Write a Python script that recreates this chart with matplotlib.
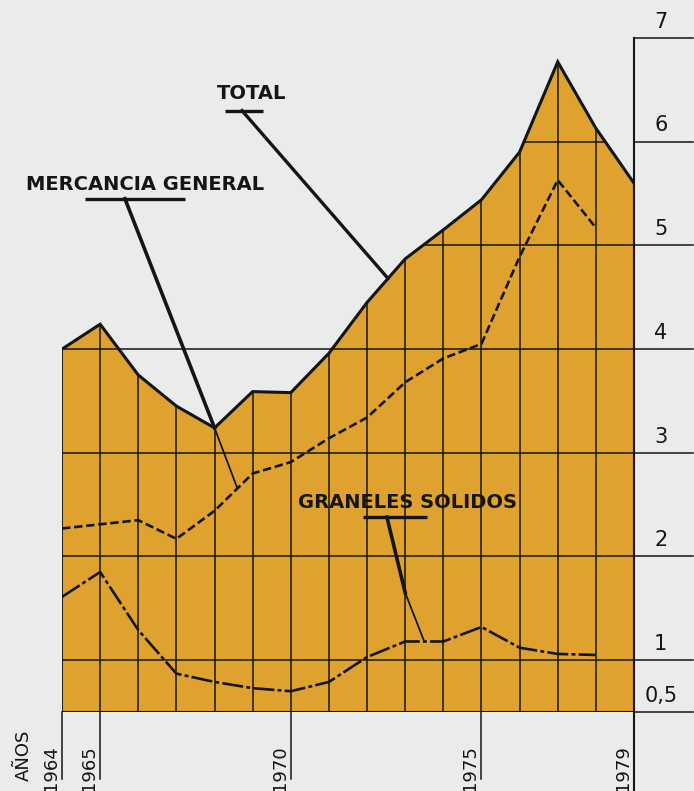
import numpy as np
import matplotlib
matplotlib.use('Agg')
import matplotlib.pyplot as plt
from matplotlib.patches import Polygon

years = np.arange(1964, 1980)
total = [4.0, 4.24, 3.75, 3.45, 3.24, 3.59, 3.58, 3.96, 4.45, 4.87, 5.15, 5.44, 5.90, 6.77, 6.13, 5.60]
years_mg = np.arange(1964, 1979)
mercancia = [2.27, 2.31, 2.35, 2.17, 2.44, 2.80, 2.91, 3.14, 3.34, 3.68, 3.91, 4.05, 4.89, 5.63, 5.17]
graneles = [1.61, 1.85, 1.29, 0.87, 0.79, 0.73, 0.70, 0.79, 1.03, 1.18, 1.18, 1.32, 1.12, 1.06, 1.05]
yticks = [0.5, 1, 2, 3, 4, 5, 6, 7]
ytick_labels = ['0,5', '1', '2', '3', '4', '5', '6', '7']
year_labels = [1964, 1965, 1970, 1975, 1979]

bg = '#e9ecea'
gold = '#e0a22f'
ink = '#151515'

fig = plt.figure(figsize=(6.94, 7.91), dpi=100, facecolor=bg)
ax = fig.add_axes([62 / 694, 79 / 791, 572 / 694, 674 / 791])
ax.set_xlim(1964, 1979)
ax.set_ylim(0.5, 7)
ax.axis('off')

# area under the total
verts = [(1964, 0.5)] + list(zip(years, total)) + [(1979, 0.5)]
poly = Polygon(verts, closed=True, facecolor=gold, edgecolor='none', zorder=1)
ax.add_patch(poly)

# grid only inside the filled area
vl = ax.vlines(years[1:-1], 0.5, 7, colors=ink, lw=1.1, zorder=2)
vl.set_clip_path(poly)
hl = ax.hlines([1, 2, 3, 5, 6], 1964, 1979, colors=ink, lw=1.1, zorder=2)
hl.set_clip_path(poly)
ax.hlines(4, 1964, 1979, colors=ink, lw=1.1, zorder=2)
ax.hlines(0.5, 1964, 1979, colors=ink, lw=1.5, zorder=2)
ax.vlines(1964, 0.5, total[0], colors=ink, lw=1.3, zorder=2)

# series
ax.plot(years, total, color=ink, lw=2.2, zorder=4, solid_joinstyle='miter')
ax.plot(years_mg, mercancia, color=ink, lw=1.9, ls=(0, (3.2, 1.4)), zorder=4)
ax.plot(years_mg, graneles, color=ink, lw=1.9, ls=(0, (8, 1.2, 1.5, 1.2)), zorder=4)

# right scale
ax.plot([1979, 1979], [-0.3, 7], color=ink, lw=1.5, clip_on=False, zorder=3)
for v, lab in zip(yticks, ytick_labels):
    ax.plot([1979, 1980.55], [v, v], color=ink, lw=1.1, clip_on=False)
    ax.text(1979.7, v + 0.06, lab, fontsize=15, color=ink, ha='center', va='bottom')

# year marks below the base
for yr in year_labels:
    if yr != 1979:
        ax.plot([yr, yr], [0.5, -0.15], color=ink, lw=1.1, clip_on=False)
    ax.text(yr - 0.06, 0.18, str(yr), rotation=90, fontsize=13, color=ink,
            ha='right', va='top')
ax.text(1963.0, 0.33, 'AÑOS', rotation=90, fontsize=13, color=ink, ha='center', va='top')

# labels with leaders
lab_kw = dict(fontsize=14, fontweight='bold', color=ink, ha='center', va='center')

ax.text(1968.96, 6.46, 'TOTAL', **lab_kw)
ax.plot([1968.27, 1969.27], [6.30, 6.30], color=ink, lw=2.4, solid_capstyle='butt')
x_end = 1972.55
ax.plot([1968.72, x_end], [6.30, np.interp(x_end, years, total)], color=ink, lw=2.4)

ax.text(1966.18, 5.59, 'MERCANCIA GENERAL', **lab_kw)
ax.plot([1964.6, 1967.23], [5.45, 5.45], color=ink, lw=2.4, solid_capstyle='butt')
ax.plot([1965.65, 1968], [5.45, total[4]], color=ink, lw=2.6, zorder=5)
x_end = 1968.6
ax.plot([1968, x_end], [total[4], np.interp(x_end, years_mg, mercancia)], color=ink, lw=1.3, zorder=5)

ax.text(1973.05, 2.52, 'GRANELES SOLIDOS', **lab_kw)
ax.plot([1971.9, 1973.57], [2.38, 2.38], color=ink, lw=2.4, solid_capstyle='butt')
ax.plot([1972.52, 1973.0], [2.38, 1.65], color=ink, lw=2.6, zorder=5)
x_end = 1973.5
ax.plot([1973.0, x_end], [1.65, np.interp(x_end, years_mg, graneles)], color=ink, lw=1.3, zorder=5)

fig.savefig('out.png', dpi=100, facecolor=bg)
